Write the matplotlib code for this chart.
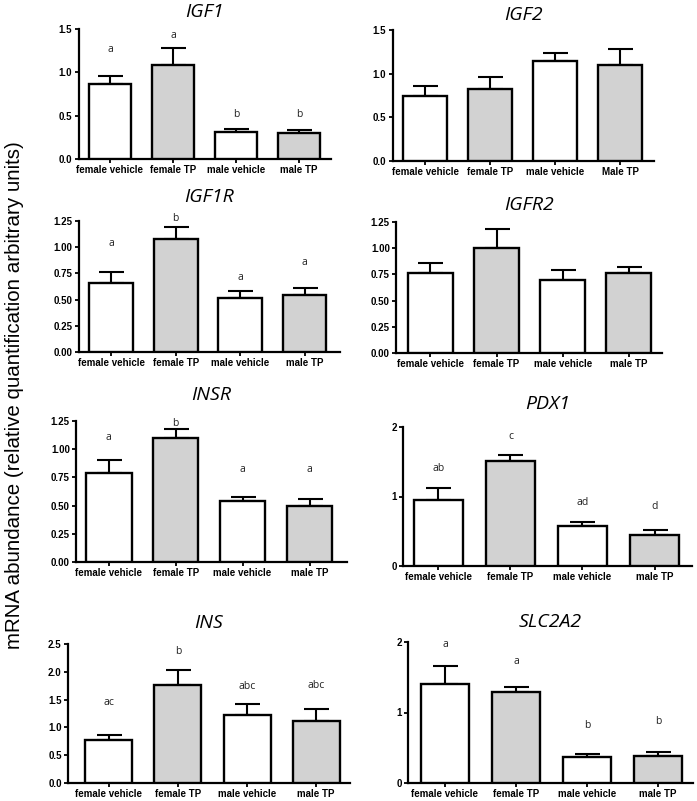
import matplotlib
matplotlib.use("Agg")
import matplotlib.pyplot as plt
import numpy as np

W, H = 697, 801

groups_a = ["female vehicle", "female TP", "male vehicle", "male TP"]
groups_b = ["female vehicle", "female TP", "male vehicle", "Male TP"]

genes = ["IGF1", "IGF2", "IGF1R", "IGFR2", "INSR", "PDX1", "INS", "SLC2A2"]

igf1_mean = [0.86, 1.08, 0.31, 0.30]
igf1_err = [0.10, 0.20, 0.04, 0.03]
igf1_letters = ["a", "a", "b", "b"]
igf1_letter_y = [1.26, 1.42, 0.51, 0.51]

igf2_mean = [0.75, 0.82, 1.15, 1.10]
igf2_err = [0.11, 0.14, 0.09, 0.18]

igf1r_mean = [0.66, 1.08, 0.52, 0.54]
igf1r_err = [0.10, 0.11, 0.06, 0.07]
igf1r_letters = ["a", "b", "a", "a"]
igf1r_letter_y = [1.04, 1.27, 0.71, 0.85]

igfr2_mean = [0.76, 1.00, 0.70, 0.76]
igfr2_err = [0.10, 0.18, 0.09, 0.06]

insr_mean = [0.79, 1.10, 0.54, 0.50]
insr_err = [0.11, 0.08, 0.04, 0.06]
insr_letters = ["a", "b", "a", "a"]
insr_letter_y = [1.10, 1.23, 0.82, 0.82]

pdx1_mean = [0.95, 1.51, 0.57, 0.45]
pdx1_err = [0.17, 0.08, 0.06, 0.07]
pdx1_letters = ["ab", "c", "ad", "d"]
pdx1_letter_y = [1.41, 1.87, 0.92, 0.85]

ins_mean = [0.78, 1.76, 1.23, 1.11]
ins_err = [0.08, 0.27, 0.19, 0.22]
ins_letters = ["ac", "b", "abc", "abc"]
ins_letter_y = [1.44, 2.36, 1.73, 1.75]

slc2a2_mean = [1.40, 1.29, 0.37, 0.38]
slc2a2_err = [0.26, 0.07, 0.04, 0.06]
slc2a2_letters = ["a", "a", "b", "b"]
slc2a2_letter_y = [1.96, 1.72, 0.82, 0.87]

panels = [
    dict(gene="IGF1", mean=igf1_mean, err=igf1_err, letters=igf1_letters, ly=igf1_letter_y,
         labels=groups_a, ymax=1.5, yticks=[0.0, 0.5, 1.0, 1.5], fmt="{:.1f}",
         box=(78.5, 330.5, 29, 159), xlim=(-0.5, 3.5), title_y=12),
    dict(gene="IGF2", mean=igf2_mean, err=igf2_err, letters=None, ly=None,
         labels=groups_b, ymax=1.5, yticks=[0.0, 0.5, 1.0, 1.5], fmt="{:.1f}",
         box=(392.5, 654, 30, 161), xlim=(-0.5, 3.52), title_y=15),
    dict(gene="IGF1R", mean=igf1r_mean, err=igf1r_err, letters=igf1r_letters, ly=igf1r_letter_y,
         labels=groups_a, ymax=1.25, yticks=[0.0, 0.25, 0.5, 0.75, 1.0, 1.25], fmt="{:.2f}",
         box=(79, 340, 221, 352), xlim=(-0.5, 3.55), title_y=197),
    dict(gene="IGFR2", mean=igfr2_mean, err=igfr2_err, letters=None, ly=None,
         labels=groups_a, ymax=1.25, yticks=[0.0, 0.25, 0.5, 0.75, 1.0, 1.25], fmt="{:.2f}",
         box=(396, 662, 222, 353), xlim=(-0.52, 3.5), title_y=205),
    dict(gene="INSR", mean=insr_mean, err=insr_err, letters=insr_letters, ly=insr_letter_y,
         labels=groups_a, ymax=1.25, yticks=[0.0, 0.25, 0.5, 0.75, 1.0, 1.25], fmt="{:.2f}",
         box=(76, 347, 421, 562), xlim=(-0.49, 3.56), title_y=395),
    dict(gene="PDX1", mean=pdx1_mean, err=pdx1_err, letters=pdx1_letters, ly=pdx1_letter_y,
         labels=groups_a, ymax=2, yticks=[0, 1, 2], fmt="{:.0f}",
         box=(403, 692, 427, 566), xlim=(-0.49, 3.52), title_y=404),
    dict(gene="INS", mean=ins_mean, err=ins_err, letters=ins_letters, ly=ins_letter_y,
         labels=groups_a, ymax=2.5, yticks=[0.0, 0.5, 1.0, 1.5, 2.0, 2.5], fmt="{:.1f}",
         box=(68, 350, 644, 783), xlim=(-0.59, 3.49), title_y=623),
    dict(gene="SLC2A2", mean=slc2a2_mean, err=slc2a2_err, letters=slc2a2_letters, ly=slc2a2_letter_y,
         labels=groups_a, ymax=2, yticks=[0, 1, 2], fmt="{:.0f}",
         box=(408, 693, 642, 783), xlim=(-0.52, 3.49), title_y=622),
]

fig = plt.figure(figsize=(W / 100, H / 100), dpi=100)
fills = ["white", "#d2d2d2", "white", "#d2d2d2"]

for p in panels:
    l, r, t, b = p["box"]
    ax = fig.add_axes([l / W, 1 - b / H, (r - l) / W, (b - t) / H])
    x = np.arange(4)
    ax.bar(x, p["mean"], width=0.68, color=fills, edgecolor="black", linewidth=1.7, zorder=3)
    ax.errorbar(x, p["mean"], yerr=[[0] * 4, p["err"]], fmt="none", ecolor="black",
                elinewidth=1.5, capsize=9, capthick=1.5, zorder=2)
    ax.set_xlim(*p["xlim"])
    ax.set_ylim(0, p["ymax"])
    ax.set_yticks(p["yticks"])
    ax.set_yticklabels([p["fmt"].format(v) for v in p["yticks"]], fontweight="bold",
                       fontsize=7, family="Liberation Sans")
    ax.set_xticks(x)
    ax.set_xticklabels(p["labels"], fontweight="bold", fontsize=7, family="Liberation Sans")
    for s in ["top", "right"]:
        ax.spines[s].set_visible(False)
    for s in ["left", "bottom"]:
        ax.spines[s].set_linewidth(1.6)
    ax.tick_params(axis="both", length=3, width=1.3, pad=1.5)
    ax.set_facecolor("none")
    if p["letters"]:
        for xi, lab, yy in zip(x, p["letters"], p["ly"]):
            ax.text(xi, yy, lab, ha="center", va="center", fontsize=7.5, family="Open Sans",
                    color="#222222")
    cx = (l + r) / 2
    fig.text(cx / W, 1 - p["title_y"] / H, p["gene"], ha="center", va="center",
             fontsize=14, style="italic", family="Open Sans")

fig.text(15 / W, 1 - 395 / H, "mRNA abundance (relative quantification arbitrary units)",
         rotation=90, ha="center", va="center", fontsize=14.8, family="Liberation Sans")

fig.savefig("out.png", dpi=100)
